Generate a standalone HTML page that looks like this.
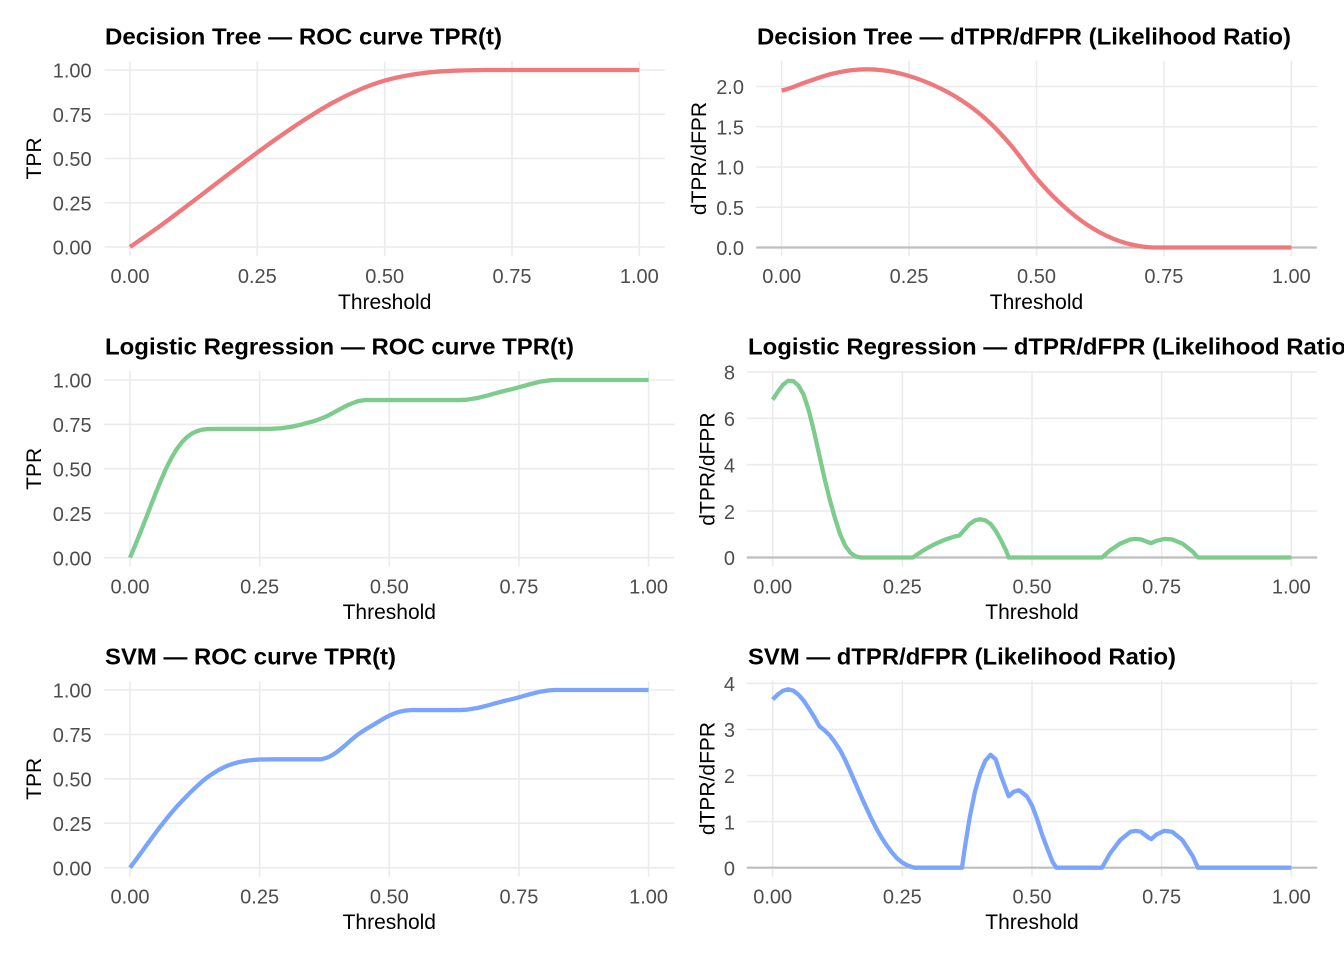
<!DOCTYPE html>
<html>
<head>
<meta charset="utf-8">
<style>
html,body{margin:0;padding:0;background:#fff;}
svg{display:block;}
.g{stroke:#EBEBEB;stroke-width:1.6;fill:none;}
.z{stroke:#BEBEBE;stroke-width:2.2;fill:none;}
.tk{font-family:"Liberation Sans",Arial,sans-serif;font-size:20px;fill:#4D4D4D;}
.ax{font-family:"Liberation Sans",Arial,sans-serif;font-size:21px;fill:#000;}
.tt{font-family:"Liberation Sans",Arial,sans-serif;font-size:23px;font-weight:bold;fill:#000;}
.r{stroke:#EF787C;}
.gr{stroke:#7DCB8D;}
.b{stroke:#7BA5FD;}
.c{fill:none;stroke-width:4.3;stroke-linejoin:round;stroke-linecap:butt;}
</style>
</head>
<body>
<svg width="1344" height="960" viewBox="0 0 1344 960" xmlns="http://www.w3.org/2000/svg">
<rect width="1344" height="960" fill="#fff"/>

<!-- ========== Panel 1 ========== -->
<g>
<line class="g" x1="104.5" x2="664.8" y1="70" y2="70"/>
<line class="g" x1="104.5" x2="664.8" y1="114.25" y2="114.25"/>
<line class="g" x1="104.5" x2="664.8" y1="158.5" y2="158.5"/>
<line class="g" x1="104.5" x2="664.8" y1="202.75" y2="202.75"/>
<line class="g" x1="104.5" x2="664.8" y1="247" y2="247"/>
<line class="g" x1="130" x2="130" y1="61.2" y2="255.9"/>
<line class="g" x1="257.3" x2="257.3" y1="61.2" y2="255.9"/>
<line class="g" x1="384.7" x2="384.7" y1="61.2" y2="255.9"/>
<line class="g" x1="512" x2="512" y1="61.2" y2="255.9"/>
<line class="g" x1="639.3" x2="639.3" y1="61.2" y2="255.9"/>
<path class="c r" d="M130,247 C134.25,244.05 147,235.38 155.5,229.3 C164,223.22 172.4,216.87 180.9,210.5 C189.4,204.13 197.9,197.58 206.4,191.1 C214.9,184.62 223.4,178.03 231.9,171.6 C240.4,165.17 248.8,158.72 257.3,152.5 C265.8,146.28 274.3,140.17 282.8,134.3 C291.3,128.43 299.8,122.65 308.3,117.3 C316.8,111.95 325.2,106.78 333.7,102.2 C342.2,97.62 350.7,93.4 359.2,89.8 C367.7,86.2 376.2,83.07 384.7,80.6 C393.2,78.13 401.6,76.47 410.1,75 C418.6,73.53 427.1,72.55 435.6,71.8 C444.1,71.05 452.5,70.8 461,70.5 C469.5,70.2 478,70.08 486.5,70 L639.3,70"/>
<text class="tk" text-anchor="end" x="91.7" y="77.7">1.00</text>
<text class="tk" text-anchor="end" x="91.7" y="121.9">0.75</text>
<text class="tk" text-anchor="end" x="91.7" y="166.2">0.50</text>
<text class="tk" text-anchor="end" x="91.7" y="210.4">0.25</text>
<text class="tk" text-anchor="end" x="91.7" y="254.7">0.00</text>
<text class="tk" text-anchor="middle" x="130" y="283">0.00</text>
<text class="tk" text-anchor="middle" x="257.3" y="283">0.25</text>
<text class="tk" text-anchor="middle" x="384.7" y="283">0.50</text>
<text class="tk" text-anchor="middle" x="512" y="283">0.75</text>
<text class="tk" text-anchor="middle" x="639.3" y="283">1.00</text>
<text class="ax" text-anchor="middle" x="384.7" y="309">Threshold</text>
<text class="ax" text-anchor="middle" transform="translate(41,158.5) rotate(-90)">TPR</text>
<text class="tt" x="105" y="44.3" textLength="397" lengthAdjust="spacingAndGlyphs">Decision Tree — ROC curve TPR(t)</text>
</g>

<!-- ========== Panel 2 ========== -->
<g>
<line class="g" x1="756.2" x2="1316.8" y1="86.5" y2="86.5"/>
<line class="g" x1="756.2" x2="1316.8" y1="126.75" y2="126.75"/>
<line class="g" x1="756.2" x2="1316.8" y1="167" y2="167"/>
<line class="g" x1="756.2" x2="1316.8" y1="207.25" y2="207.25"/>
<line class="g" x1="781.7" x2="781.7" y1="60.8" y2="256.4"/>
<line class="g" x1="909.1" x2="909.1" y1="60.8" y2="256.4"/>
<line class="g" x1="1036.5" x2="1036.5" y1="60.8" y2="256.4"/>
<line class="g" x1="1163.9" x2="1163.9" y1="60.8" y2="256.4"/>
<line class="g" x1="1291.3" x2="1291.3" y1="60.8" y2="256.4"/>
<line class="z" x1="756.2" x2="1316.8" y1="247.5" y2="247.5"/>
<path class="c r" d="M781.7,90.5 C790.2,89.03 798.7,84.52 807.2,81.7 C815.7,78.88 824.2,75.62 832.7,73.6 C841.2,71.58 849.6,70.13 858.1,69.6 C866.6,69.07 875.1,69.33 883.6,70.4 C892.1,71.47 900.6,73.45 909.1,76 C917.6,78.55 926.1,81.8 934.6,85.7 C943.1,89.6 951.6,93.9 960.1,99.4 C968.6,104.9 977,111.05 985.5,118.7 C994,126.35 1002.5,135.37 1011,145.3 C1019.5,155.23 1028,168.38 1036.5,178.3 C1045,188.22 1053.5,197.02 1062,204.8 C1070.5,212.58 1079,219.37 1087.5,225 C1096,230.63 1104.4,235.12 1112.9,238.6 C1121.4,242.08 1129.9,244.42 1138.4,245.9 C1145.2,247.38 1148.6,247.23 1153.7,247.5 L1291.3,247.5"/>
<text class="tk" text-anchor="end" x="744" y="94.2">2.0</text>
<text class="tk" text-anchor="end" x="744" y="134.4">1.5</text>
<text class="tk" text-anchor="end" x="744" y="174.7">1.0</text>
<text class="tk" text-anchor="end" x="744" y="214.9">0.5</text>
<text class="tk" text-anchor="end" x="744" y="255.2">0.0</text>
<text class="tk" text-anchor="middle" x="781.7" y="283">0.00</text>
<text class="tk" text-anchor="middle" x="909.1" y="283">0.25</text>
<text class="tk" text-anchor="middle" x="1036.5" y="283">0.50</text>
<text class="tk" text-anchor="middle" x="1163.9" y="283">0.75</text>
<text class="tk" text-anchor="middle" x="1291.3" y="283">1.00</text>
<text class="ax" text-anchor="middle" x="1036.5" y="309">Threshold</text>
<text class="ax" text-anchor="middle" transform="translate(706,158.5) rotate(-90)">dTPR/dFPR</text>
<text class="tt" x="757" y="44.3" textLength="534" lengthAdjust="spacingAndGlyphs">Decision Tree — dTPR/dFPR (Likelihood Ratio)</text>
</g>

<!-- ========== Panel 3 ========== -->
<g>
<line class="g" x1="104.1" x2="674.5" y1="380" y2="380"/>
<line class="g" x1="104.1" x2="674.5" y1="424.4" y2="424.4"/>
<line class="g" x1="104.1" x2="674.5" y1="468.85" y2="468.85"/>
<line class="g" x1="104.1" x2="674.5" y1="513.25" y2="513.25"/>
<line class="g" x1="104.1" x2="674.5" y1="557.7" y2="557.7"/>
<line class="g" x1="130" x2="130" y1="371.1" y2="566.6"/>
<line class="g" x1="259.65" x2="259.65" y1="371.1" y2="566.6"/>
<line class="g" x1="389.3" x2="389.3" y1="371.1" y2="566.6"/>
<line class="g" x1="518.95" x2="518.95" y1="371.1" y2="566.6"/>
<line class="g" x1="648.6" x2="648.6" y1="371.1" y2="566.6"/>
<polyline class="c gr" points="130,557.7 135.19,545.35 140.37,532.47 145.56,519.23 150.74,505.81 155.93,492.57 161.12,479.87 166.3,468.05 171.49,457.83 176.67,449.13 181.86,442.28 187.05,437.04 192.23,433.31 197.42,431 202.6,429.58 207.79,429.05 218.16,428.87 270.02,428.87 280.39,428.33 290.77,426.91 301.14,424.6 311.51,421.76 316.7,420.16 321.88,418.21 327.07,416.08 332.25,413.41 337.44,410.57 342.63,407.72 347.81,405.06 353,402.93 358.18,401.15 363.37,400.26 365.96,400.08 459.31,400.08 467.09,399.67 477.46,398 487.83,395.44 493.02,393.97 498.21,392.51 505.99,390.52 508.58,389.93 513.76,388.69 521.54,386.57 529.32,384.37 539.69,381.81 550.07,380.23 555.25,380 648.6,380"/>
<text class="tk" text-anchor="end" x="91.7" y="387.7">1.00</text>
<text class="tk" text-anchor="end" x="91.7" y="432.1">0.75</text>
<text class="tk" text-anchor="end" x="91.7" y="476.5">0.50</text>
<text class="tk" text-anchor="end" x="91.7" y="520.9">0.25</text>
<text class="tk" text-anchor="end" x="91.7" y="565.4">0.00</text>
<text class="tk" text-anchor="middle" x="130" y="593.4">0.00</text>
<text class="tk" text-anchor="middle" x="259.65" y="593.4">0.25</text>
<text class="tk" text-anchor="middle" x="389.3" y="593.4">0.50</text>
<text class="tk" text-anchor="middle" x="518.95" y="593.4">0.75</text>
<text class="tk" text-anchor="middle" x="648.6" y="593.4">1.00</text>
<text class="ax" text-anchor="middle" x="389.3" y="619">Threshold</text>
<text class="ax" text-anchor="middle" transform="translate(41,468.85) rotate(-90)">TPR</text>
<text class="tt" x="105" y="354.5" textLength="469" lengthAdjust="spacingAndGlyphs">Logistic Regression — ROC curve TPR(t)</text>
</g>

<!-- ========== Panel 4 ========== -->
<g>
<line class="g" x1="746.8" x2="1317.2" y1="371.9" y2="371.9"/>
<line class="g" x1="746.8" x2="1317.2" y1="418.3" y2="418.3"/>
<line class="g" x1="746.8" x2="1317.2" y1="464.7" y2="464.7"/>
<line class="g" x1="746.8" x2="1317.2" y1="511.1" y2="511.1"/>
<line class="g" x1="772.7" x2="772.7" y1="371.9" y2="566.3"/>
<line class="g" x1="902.35" x2="902.35" y1="371.9" y2="566.3"/>
<line class="g" x1="1032" x2="1032" y1="371.9" y2="566.3"/>
<line class="g" x1="1161.65" x2="1161.65" y1="371.9" y2="566.3"/>
<line class="g" x1="1291.3" x2="1291.3" y1="371.9" y2="566.3"/>
<line class="z" x1="746.8" x2="1317.2" y1="557.5" y2="557.5"/>
<polyline class="c gr" points="772.7,399.74 777.89,391.62 783.07,384.66 788.26,380.72 793.44,381.18 798.63,385.82 803.82,395.1 809,411.34 814.19,432.22 819.37,455.42 824.56,478.62 829.75,499.5 834.93,518.06 840.12,534.3 845.3,545.9 850.49,552.86 855.68,556.34 860.86,557.5 912.72,557.5 923.09,550.54 933.47,544.74 943.84,540.1 954.21,536.62 959.4,535.46 964.58,529.66 969.77,523.86 974.95,520.38 980.14,519.22 985.33,520.38 990.51,523.86 995.7,530.82 1000.88,540.1 1006.07,550.54 1008.66,557.5 1102.01,557.5 1109.79,550.54 1120.16,543.58 1130.53,539.4 1135.72,538.94 1140.91,539.4 1148.69,542.42 1151.28,543.12 1156.46,540.8 1164.24,538.94 1172.02,539.4 1182.39,543.58 1192.77,551.7 1197.95,557.5 1291.3,557.5"/>
<text class="tk" text-anchor="end" x="735" y="379.6">8</text>
<text class="tk" text-anchor="end" x="735" y="426">6</text>
<text class="tk" text-anchor="end" x="735" y="472.4">4</text>
<text class="tk" text-anchor="end" x="735" y="518.8">2</text>
<text class="tk" text-anchor="end" x="735" y="565.2">0</text>
<text class="tk" text-anchor="middle" x="772.7" y="593.4">0.00</text>
<text class="tk" text-anchor="middle" x="902.35" y="593.4">0.25</text>
<text class="tk" text-anchor="middle" x="1032" y="593.4">0.50</text>
<text class="tk" text-anchor="middle" x="1161.65" y="593.4">0.75</text>
<text class="tk" text-anchor="middle" x="1291.3" y="593.4">1.00</text>
<text class="ax" text-anchor="middle" x="1032" y="619">Threshold</text>
<text class="ax" text-anchor="middle" transform="translate(714.4,469.1) rotate(-90)">dTPR/dFPR</text>
<text class="tt" x="748" y="354.5" textLength="606" lengthAdjust="spacingAndGlyphs">Logistic Regression — dTPR/dFPR (Likelihood Ratio)</text>
</g>

<!-- ========== Panel 5 ========== -->
<g>
<line class="g" x1="104.1" x2="674.5" y1="690" y2="690"/>
<line class="g" x1="104.1" x2="674.5" y1="734.4" y2="734.4"/>
<line class="g" x1="104.1" x2="674.5" y1="778.85" y2="778.85"/>
<line class="g" x1="104.1" x2="674.5" y1="823.25" y2="823.25"/>
<line class="g" x1="104.1" x2="674.5" y1="867.7" y2="867.7"/>
<line class="g" x1="130" x2="130" y1="681.1" y2="876.6"/>
<line class="g" x1="259.65" x2="259.65" y1="681.1" y2="876.6"/>
<line class="g" x1="389.3" x2="389.3" y1="681.1" y2="876.6"/>
<line class="g" x1="518.95" x2="518.95" y1="681.1" y2="876.6"/>
<line class="g" x1="648.6" x2="648.6" y1="681.1" y2="876.6"/>
<polyline class="c b" points="130,867.7 135.19,860.82 140.37,853.75 145.56,846.5 150.74,839.44 155.93,832.37 161.12,825.5 166.3,818.99 171.49,812.67 176.67,806.71 181.86,801.13 187.05,795.75 192.23,790.54 197.42,785.71 202.6,781.06 207.79,776.97 212.98,773.43 218.16,770.27 223.35,767.48 228.53,765.26 233.72,763.59 238.91,762.1 244.09,761.17 249.28,760.42 254.46,759.86 259.65,759.5 272.62,759.3 319.29,759.3 321.88,759.11 327.07,757.69 332.25,755.13 337.44,751.61 342.63,747.45 347.81,742.94 353,738.39 358.18,734.25 365.96,729.2 371.15,726.16 376.33,723 384.11,718.4 389.3,715.64 394.49,713.37 399.67,711.7 404.86,710.65 410.04,710.15 413.67,710.08 459.31,710.08 467.09,709.67 477.46,708 487.83,705.44 493.02,703.97 498.21,702.51 505.99,700.52 508.58,699.93 513.76,698.69 521.54,696.57 529.32,694.37 539.69,691.81 550.07,690.23 555.25,690 648.6,690"/>
<text class="tk" text-anchor="end" x="91.7" y="697.7">1.00</text>
<text class="tk" text-anchor="end" x="91.7" y="742.1">0.75</text>
<text class="tk" text-anchor="end" x="91.7" y="786.5">0.50</text>
<text class="tk" text-anchor="end" x="91.7" y="830.9">0.25</text>
<text class="tk" text-anchor="end" x="91.7" y="875.4">0.00</text>
<text class="tk" text-anchor="middle" x="130" y="903.4">0.00</text>
<text class="tk" text-anchor="middle" x="259.65" y="903.4">0.25</text>
<text class="tk" text-anchor="middle" x="389.3" y="903.4">0.50</text>
<text class="tk" text-anchor="middle" x="518.95" y="903.4">0.75</text>
<text class="tk" text-anchor="middle" x="648.6" y="903.4">1.00</text>
<text class="ax" text-anchor="middle" x="389.3" y="929">Threshold</text>
<text class="ax" text-anchor="middle" transform="translate(41,778.85) rotate(-90)">TPR</text>
<text class="tt" x="105" y="664.5" textLength="291" lengthAdjust="spacingAndGlyphs">SVM — ROC curve TPR(t)</text>
</g>

<!-- ========== Panel 6 ========== -->
<g>
<line class="g" x1="746.8" x2="1317.2" y1="683.3" y2="683.3"/>
<line class="g" x1="746.8" x2="1317.2" y1="729.4" y2="729.4"/>
<line class="g" x1="746.8" x2="1317.2" y1="775.5" y2="775.5"/>
<line class="g" x1="746.8" x2="1317.2" y1="821.6" y2="821.6"/>
<line class="g" x1="772.7" x2="772.7" y1="680.4" y2="876.6"/>
<line class="g" x1="902.35" x2="902.35" y1="680.4" y2="876.6"/>
<line class="g" x1="1032" x2="1032" y1="680.4" y2="876.6"/>
<line class="g" x1="1161.65" x2="1161.65" y1="680.4" y2="876.6"/>
<line class="g" x1="1291.3" x2="1291.3" y1="680.4" y2="876.6"/>
<line class="z" x1="746.8" x2="1317.2" y1="867.7" y2="867.7"/>
<polyline class="c b" points="772.7,699.44 777.89,694.36 783.07,690.68 788.26,689.29 793.44,690.68 798.63,694.83 803.82,700.82 809,708.66 814.19,716.95 819.37,726.18 824.56,730.32 829.75,735.39 834.93,742.31 840.12,750.15 845.3,760.29 850.49,771.81 855.68,783.8 860.86,795.78 866.05,807.31 871.23,818.37 876.42,828.52 881.61,837.74 886.79,845.57 891.98,852.49 897.16,858.48 902.35,862.63 907.54,865.4 912.72,867.24 915.32,867.7 962,867.7 964.58,849.26 969.77,817 974.95,791.64 980.14,773.2 985.33,760.75 990.51,754.76 995.7,759.37 1000.88,775.5 1008.66,796.25 1013.85,791.64 1019.04,790.25 1026.81,796.25 1032,805.47 1037.19,819.29 1042.37,835.43 1047.56,849.26 1052.74,862.17 1056.37,867.7 1102.01,867.7 1109.79,853.87 1120.16,840.04 1130.53,831.74 1135.72,830.82 1140.91,831.74 1148.69,837.74 1151.28,839.12 1156.46,834.51 1164.24,830.82 1172.02,831.74 1182.39,840.04 1192.77,856.18 1197.95,867.7 1291.3,867.7"/>
<text class="tk" text-anchor="end" x="735" y="691">4</text>
<text class="tk" text-anchor="end" x="735" y="737.1">3</text>
<text class="tk" text-anchor="end" x="735" y="783.2">2</text>
<text class="tk" text-anchor="end" x="735" y="829.3">1</text>
<text class="tk" text-anchor="end" x="735" y="875.4">0</text>
<text class="tk" text-anchor="middle" x="772.7" y="903.4">0.00</text>
<text class="tk" text-anchor="middle" x="902.35" y="903.4">0.25</text>
<text class="tk" text-anchor="middle" x="1032" y="903.4">0.50</text>
<text class="tk" text-anchor="middle" x="1161.65" y="903.4">0.75</text>
<text class="tk" text-anchor="middle" x="1291.3" y="903.4">1.00</text>
<text class="ax" text-anchor="middle" x="1032" y="929">Threshold</text>
<text class="ax" text-anchor="middle" transform="translate(714.4,778.5) rotate(-90)">dTPR/dFPR</text>
<text class="tt" x="748" y="664.5" textLength="428" lengthAdjust="spacingAndGlyphs">SVM — dTPR/dFPR (Likelihood Ratio)</text>
</g>
</svg>
</body>
</html>
